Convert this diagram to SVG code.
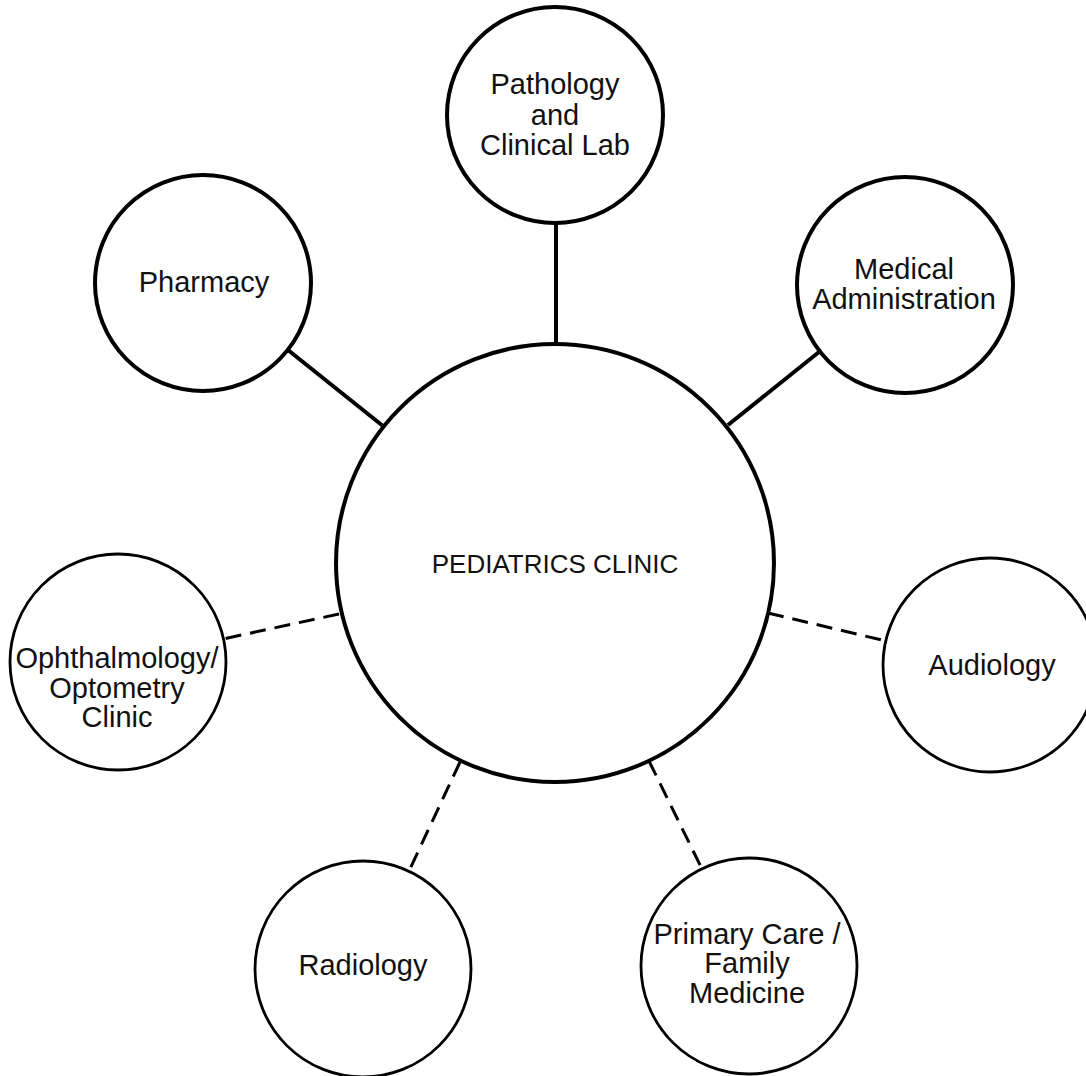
<svg xmlns="http://www.w3.org/2000/svg" width="1086" height="1076" viewBox="0 0 1086 1076">
<style>
.bg{fill:#ffffff}
.node{fill:#ffffff;stroke:#000000}
.thick{stroke-width:4}
.thin{stroke-width:2.8}
.lbl{font-family:"Liberation Sans",Arial,sans-serif;font-size:29px;fill:#111111;text-anchor:middle}
.main{font-size:26px}
.solid{stroke:#000000;stroke-width:4;fill:none}
.dash{stroke:#000000;stroke-width:3;fill:none;stroke-dasharray:16 9}
</style>
<rect class="bg" x="0" y="0" width="1086" height="1076"/>
<g id="connectors">
<line class="solid" x1="556" y1="223" x2="556" y2="345"/>
<line class="solid" x1="288" y1="350" x2="383" y2="426"/>
<line class="solid" x1="819" y1="352" x2="728" y2="425"/>
<line class="dash" x1="339" y1="614" x2="223" y2="639"/>
<line class="dash" x1="768" y1="613" x2="886" y2="641"/>
<line class="dash" x1="460" y1="762" x2="409" y2="871"/>
<line class="dash" x1="649" y1="761" x2="702" y2="869"/>
</g>
<g id="pediatrics">
<circle class="node thick" cx="555" cy="563" r="219"/>
<text class="lbl main" x="555" y="573">PEDIATRICS CLINIC</text>
</g>
<g id="pathology">
<circle class="node thick" cx="555" cy="115" r="108"/>
<text class="lbl" x="555" y="94">Pathology</text>
<text class="lbl" x="555" y="125">and</text>
<text class="lbl" x="555" y="155">Clinical Lab</text>
</g>
<g id="pharmacy">
<circle class="node thick" cx="203" cy="283" r="108"/>
<text class="lbl" x="204" y="292">Pharmacy</text>
</g>
<g id="medadmin">
<circle class="node thick" cx="905" cy="285" r="108"/>
<text class="lbl" x="904" y="279">Medical</text>
<text class="lbl" x="904" y="309">Administration</text>
</g>
<g id="ophthalmology">
<circle class="node thin" cx="118" cy="662" r="108"/>
<text class="lbl" x="117" y="668">Ophthalmology/</text>
<text class="lbl" x="117" y="698">Optometry</text>
<text class="lbl" x="117" y="727">Clinic</text>
</g>
<g id="audiology">
<circle class="node thin" cx="990" cy="665" r="107"/>
<text class="lbl" x="992" y="675">Audiology</text>
</g>
<g id="radiology">
<circle class="node thin" cx="363" cy="969" r="108"/>
<text class="lbl" x="363" y="975">Radiology</text>
</g>
<g id="primarycare">
<circle class="node thin" cx="749" cy="966" r="108"/>
<text class="lbl" x="747" y="944">Primary Care /</text>
<text class="lbl" x="747" y="973">Family</text>
<text class="lbl" x="747" y="1003">Medicine</text>
</g>
</svg>
